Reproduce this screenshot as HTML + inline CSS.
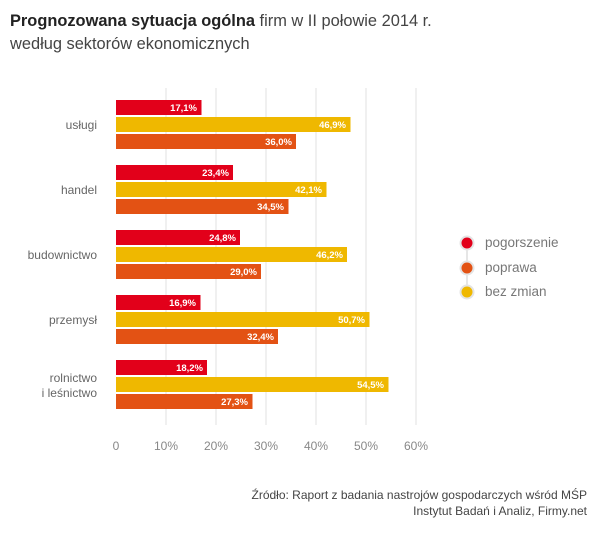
<!DOCTYPE html>
<html><head><meta charset="utf-8"><style>
body{margin:0;background:#fff;width:600px;height:531px;overflow:hidden;font-family:"Liberation Sans",sans-serif}
</style></head><body>
<svg width="600" height="531" xmlns="http://www.w3.org/2000/svg" font-family="Liberation Sans, sans-serif">
<text x="10" y="26" font-size="16.4" fill="#222"><tspan font-weight="bold">Prognozowana sytuacja ogólna</tspan><tspan fill="#444"> firm w II połowie 2014 r.</tspan></text>
<text x="10" y="49" font-size="16.4" fill="#444">według sektorów ekonomicznych</text>
<g stroke="#ececec" stroke-width="1.5">
<line x1="166" y1="88" x2="166" y2="425"/><line x1="216" y1="88" x2="216" y2="425"/><line x1="266" y1="88" x2="266" y2="425"/><line x1="316" y1="88" x2="316" y2="425"/><line x1="366" y1="88" x2="366" y2="425"/><line x1="416" y1="88" x2="416" y2="425"/>
</g>
<g font-size="12" fill="#888" text-anchor="middle">
<text x="116" y="450">0</text><text x="166" y="450">10%</text><text x="216" y="450">20%</text><text x="266" y="450">30%</text><text x="316" y="450">40%</text><text x="366" y="450">50%</text><text x="416" y="450">60%</text>
</g>
<g font-size="12" fill="#666" text-anchor="end">
<text x="97" y="129">usługi</text>
<text x="97" y="194">handel</text>
<text x="97" y="259">budownictwo</text>
<text x="97" y="324">przemysł</text>
<text x="97" y="382">rolnictwo</text><text x="97" y="397">i leśnictwo</text>
</g>
<g font-size="9.5" fill="#fff" text-anchor="end" font-weight="bold">
<rect x="116" y="100" width="85.5" height="15" fill="#e2001a"/><text x="197" y="111">17,1%</text>
<rect x="116" y="117" width="234.5" height="15" fill="#efb800"/><text x="346" y="128">46,9%</text>
<rect x="116" y="134" width="180" height="15" fill="#e35214"/><text x="292" y="145">36,0%</text>
<rect x="116" y="165" width="117" height="15" fill="#e2001a"/><text x="229" y="176">23,4%</text>
<rect x="116" y="182" width="210.5" height="15" fill="#efb800"/><text x="322" y="193">42,1%</text>
<rect x="116" y="199" width="172.5" height="15" fill="#e35214"/><text x="284" y="210">34,5%</text>
<rect x="116" y="230" width="124" height="15" fill="#e2001a"/><text x="236" y="241">24,8%</text>
<rect x="116" y="247" width="231" height="15" fill="#efb800"/><text x="343" y="258">46,2%</text>
<rect x="116" y="264" width="145" height="15" fill="#e35214"/><text x="257" y="275">29,0%</text>
<rect x="116" y="295" width="84.5" height="15" fill="#e2001a"/><text x="196" y="306">16,9%</text>
<rect x="116" y="312" width="253.5" height="15" fill="#efb800"/><text x="365" y="323">50,7%</text>
<rect x="116" y="329" width="162" height="15" fill="#e35214"/><text x="274" y="340">32,4%</text>
<rect x="116" y="360" width="91" height="15" fill="#e2001a"/><text x="203" y="371">18,2%</text>
<rect x="116" y="377" width="272.5" height="15" fill="#efb800"/><text x="384" y="388">54,5%</text>
<rect x="116" y="394" width="136.5" height="15" fill="#e35214"/><text x="248" y="405">27,3%</text>
</g>
<line x1="467" y1="243" x2="467" y2="292" stroke="#ddd" stroke-width="1.5"/>
<g stroke="#e4e4e4" stroke-width="2">
<circle cx="467" cy="243" r="6.5" fill="#e2001a"/>
<circle cx="467" cy="268" r="6.5" fill="#e35214"/>
<circle cx="467" cy="292" r="6.5" fill="#efb800"/>
</g>
<g font-size="13.5" fill="#777">
<text x="485" y="247">pogorszenie</text><text x="485" y="272">poprawa</text><text x="485" y="296">bez zmian</text>
</g>
<g font-size="12" fill="#444" text-anchor="end">
<text x="587" y="499">Źródło: Raport z badania nastrojów gospodarczych wśród MŚP</text>
<text x="587" y="515">Instytut Badań i Analiz, Firmy.net</text>
</g>
</svg>
</body></html>
